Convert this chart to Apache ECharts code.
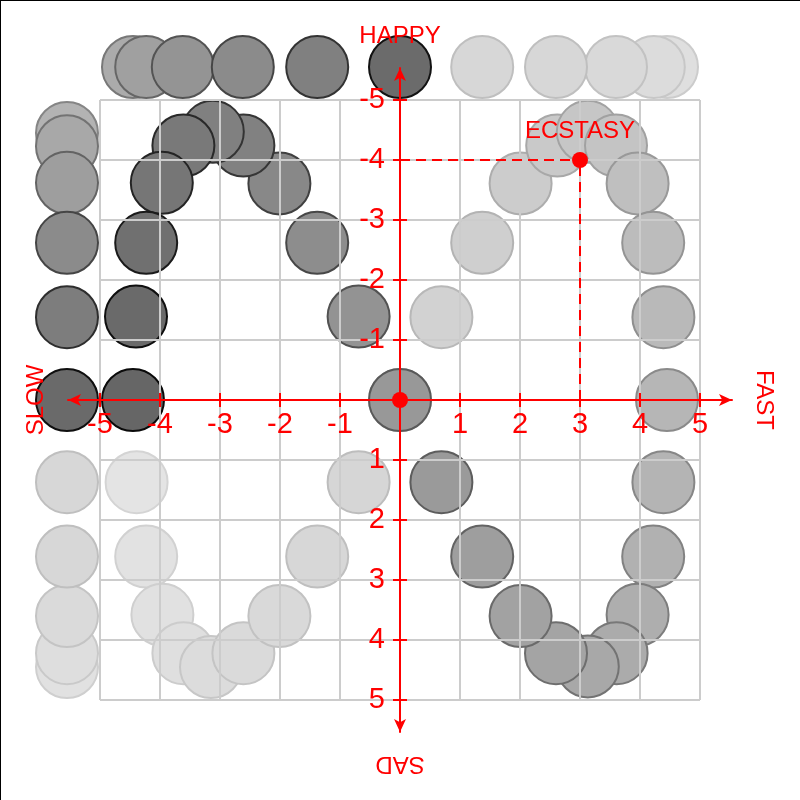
<!DOCTYPE html>
<html><head><meta charset="utf-8">
<script src="https://cdn.jsdelivr.net/npm/echarts@6/dist/echarts.min.js"></script>
<style>html,body{margin:0;padding:0;background:#fff}#main{width:800px;height:800px;border-top:1px solid #000;border-left:1px solid #000;}</style>
</head><body><div id="main"></div>
<script>
// path of the figure-eight, in drawing order
const loopX = [-4.39,-4.23,-3.96,-3.61,-3.15,-2.61,-2.01,-1.38,-0.69,0,
  0.69,1.37,2.01,2.62,3.13,3.6,3.96,4.22,4.39,4.45,
  4.39,4.22,3.96,3.61,3.13,2.6,2.01,1.37,0.69,0,
  -0.69,-1.38,-2.01,-2.61,-3.12,-3.61,-3.97,-4.23,-4.4,-4.45];
const loopY = [1.37,2.61,3.58,4.22,4.45,4.22,3.6,2.61,1.37,0,
  -1.38,-2.62,-3.61,-4.24,-4.47,-4.24,-3.61,-2.62,-1.38,0,
  1.37,2.61,3.58,4.22,4.44,4.22,3.6,2.61,1.37,0,
  -1.39,-2.62,-3.61,-4.24,-4.47,-4.24,-3.62,-2.62,-1.39,0];
const loopLevel = [0.17,0.18,0.19,0.20,0.22,0.23,0.24,0.25,0.26,0.27,
  0.28,0.30,0.32,0.34,0.36,0.37,0.40,0.42,0.44,0.46,
  0.47,0.49,0.51,0.53,0.55,0.57,0.585,0.61,0.635,0.65,
  0.68,0.72,0.75,0.79,0.80,0.84,0.86,0.90,0.94,0.96];
// projections on the margins
const marginValue = -5.55;
const topX = [4.45,4.23,3.6,2.6,1.37,-4.45,-4.23,-3.62,-2.62,-1.38,0];
const topLevel = [0.2,0.22,0.24,0.25,0.25,0.53,0.6,0.67,0.73,0.8,0.93];
const sideY = [4.45,4.22,3.6,2.61,1.37,-4.45,-4.23,-3.62,-2.62,-1.38,0];
const sideLevel = [0.19,0.21,0.23,0.25,0.25,0.48,0.55,0.61,0.73,0.82,0.94];
// red markers
const markerNames = ['', 'ECSTASY'];
const markerX = [0, 3];
const markerY = [0, -4];
// axes
const tickValues = [-5,-4,-3,-2,-1,1,2,3,4,5];
const gridMin = -5, gridMax = 5;
const axisMin = -5.5333, axisMax = 5.5333;

const RED = '#ff0000';
const FONT = 'Liberation Sans, Arial, sans-serif';
const BASE = 96;

function gray(v) { v = Math.max(0, Math.min(255, Math.round(v))); return 'rgb(' + v + ',' + v + ',' + v + ')'; }
function item(x, y, level) {
  return {
    value: [x, y, level],
    itemStyle: { color: gray(255 - level * (255 - BASE)), borderColor: gray(255 - level * 255) }
  };
}

const loopData = loopX.map((x, i) => item(x, loopY[i], loopLevel[i]));
const topData = topX.map((x, i) => item(x, marginValue, topLevel[i]));
const sideData = sideY.map((y, i) => item(marginValue, y, sideLevel[i]));
const markerData = markerX.map((x, i) => ({ name: markerNames[i], value: [x, markerY[i]] }));
const ec = markerData[1].value;

const grayAxis = (dim) => ({
  type: 'value', gridIndex: 0, min: gridMin, max: gridMax, interval: 1, z: 3,
  inverse: dim === 'y',
  axisLine: { show: false }, axisTick: { show: false }, axisLabel: { show: false },
  splitLine: { show: true, lineStyle: { color: '#cccccc', width: 2 } }
});

const nameStyle = { color: RED, fontSize: 24, fontFamily: FONT };
const circleSeries = (data) => ({
  type: 'scatter', xAxisIndex: 1, yAxisIndex: 1, z: 1, clip: false, symbolSize: 62, data: data,
  itemStyle: { borderWidth: 2, opacity: 1 }, emphasis: { disabled: true }
});

const chart = echarts.init(document.getElementById('main'), null, { renderer: 'canvas' });
chart.setOption({
  animation: false,
  textStyle: { fontFamily: FONT },
  grid: [
    { left: 99, top: 99, width: 600, height: 600, outerBoundsMode: 'none' },
    { left: 67, top: 67, width: 664, height: 664, outerBoundsMode: 'none' },
    { left: 67, top: 67, width: 664, height: 664, outerBoundsMode: 'none' }
  ],
  xAxis: [
    grayAxis('x'),
    {
      type: 'value', gridIndex: 1, min: axisMin, max: axisMax, z: 5, position: 'bottom', offset: -332,
      splitLine: { show: false },
      axisLine: { onZero: false, symbol: ['arrow', 'arrow'], symbolSize: [9, 13], lineStyle: { color: RED, width: 2 } },
      axisTick: { show: true, length: 7, customValues: tickValues, lineStyle: { color: RED, width: 2 } },
      axisLabel: { customValues: tickValues, color: RED, fontSize: 29, margin: 10, fontFamily: FONT },
      name: 'FAST', nameLocation: 'end', nameRotate: -90, nameGap: 20, nameMoveOverlap: false, nameTextStyle: nameStyle
    },
    {
      type: 'value', gridIndex: 2, min: axisMin, max: axisMax, z: 5, position: 'bottom', offset: -332,
      splitLine: { show: false },
      axisLine: { onZero: false, show: true, lineStyle: { color: RED, width: 2, opacity: 0 } },
      axisTick: { show: true, inside: true, length: 7, customValues: tickValues, lineStyle: { color: RED, width: 2 } },
      axisLabel: { show: false },
      name: 'SLOW', nameLocation: 'start', nameRotate: 90, nameGap: 20, nameMoveOverlap: false, nameTextStyle: nameStyle
    }
  ],
  yAxis: [
    grayAxis('y'),
    {
      type: 'value', gridIndex: 1, min: axisMin, max: axisMax, inverse: true, z: 5, position: 'left', offset: -332,
      splitLine: { show: false },
      axisLine: { onZero: false, symbol: ['arrow', 'arrow'], symbolSize: [9, 13], lineStyle: { color: RED, width: 2 } },
      axisTick: { show: true, length: 7, customValues: tickValues, lineStyle: { color: RED, width: 2 } },
      axisLabel: { customValues: tickValues, color: RED, fontSize: 29, margin: 15, fontFamily: FONT },
      name: 'HAPPY', nameLocation: 'start', nameGap: 20, nameMoveOverlap: false, nameTextStyle: nameStyle
    },
    {
      type: 'value', gridIndex: 2, min: axisMin, max: axisMax, inverse: true, z: 5, position: 'left', offset: -332,
      splitLine: { show: false },
      axisLine: { onZero: false, show: true, lineStyle: { color: RED, width: 2, opacity: 0 } },
      axisTick: { show: true, inside: true, length: 7, customValues: tickValues, lineStyle: { color: RED, width: 2 } },
      axisLabel: { show: false },
      name: 'SAD', nameLocation: 'end', nameRotate: 180, nameGap: 20, nameMoveOverlap: false, nameTextStyle: nameStyle
    }
  ],
  series: [
    circleSeries(loopData),
    circleSeries(topData),
    circleSeries(sideData),
    { type: 'scatter', xAxisIndex: 1, yAxisIndex: 1, z: 6, clip: false, symbolSize: 16, data: markerData,
      itemStyle: { color: RED, opacity: 1 },
      label: { show: true, position: 'top', distance: 9, formatter: '{b}', color: RED, fontSize: 24, fontFamily: FONT },
      emphasis: { disabled: true },
      markLine: {
        silent: true, symbol: 'none', animation: false, label: { show: false },
        lineStyle: { color: RED, width: 2, type: [10, 6], opacity: 1 },
        data: [
          [{ coord: [0, ec[1]] }, { coord: [ec[0], ec[1]] }],
          [{ coord: [ec[0], 0] }, { coord: [ec[0], ec[1]] }]
        ]
      }
    }
  ]
});
</script></body></html>
